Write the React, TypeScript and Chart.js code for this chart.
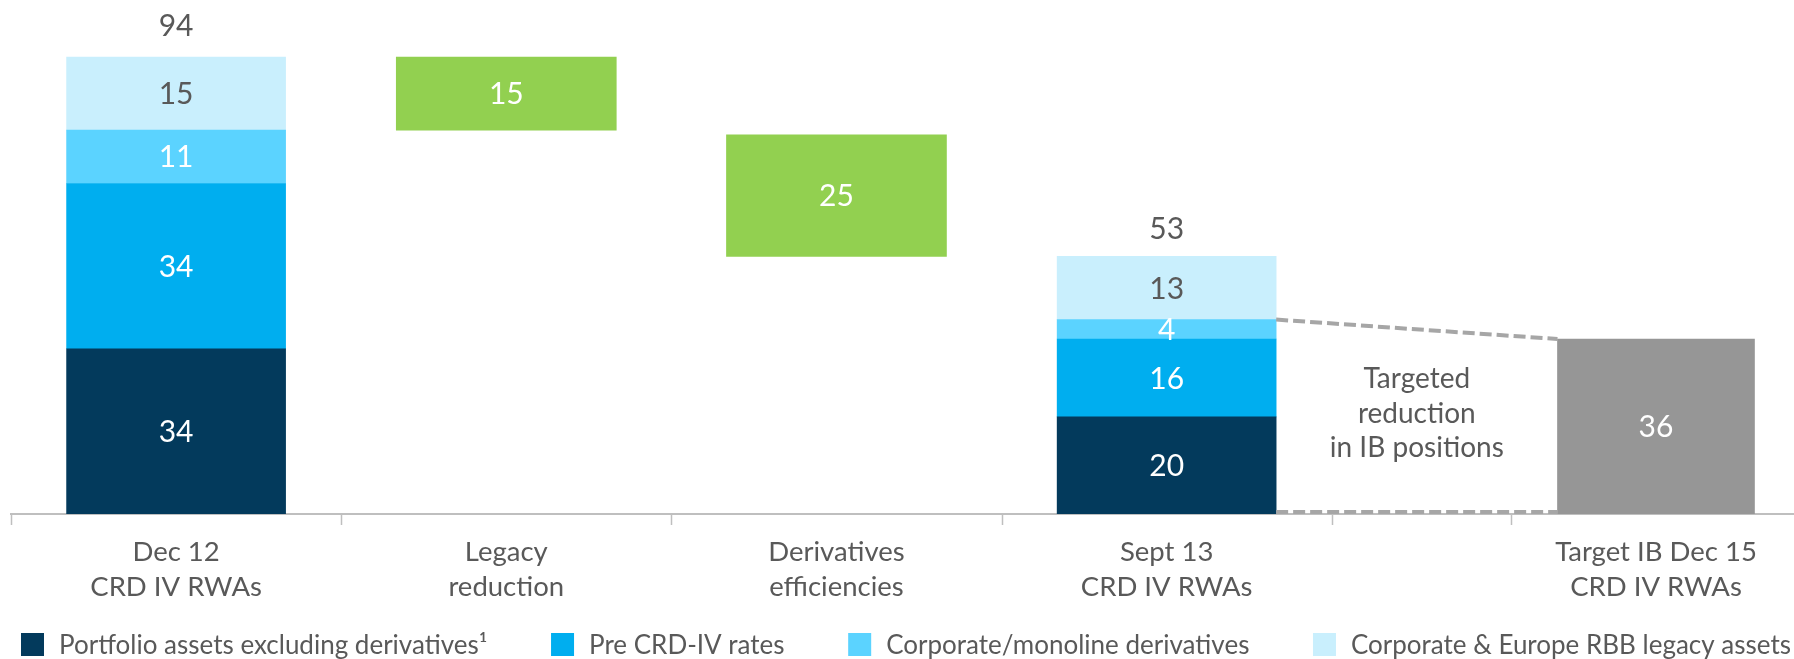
import React, { useEffect, useRef } from "react";
import { Chart, registerables } from "chart.js";

Chart.register(...registerables);

// ---------- data ----------
const CATEGORIES: string[][] = [
  ["Dec 12", "CRD IV RWAs"],
  ["Legacy", "reduction"],
  ["Derivatives", "efficiencies"],
  ["Sept 13", "CRD IV RWAs"],
  ["Target IB Dec 15", "CRD IV RWAs"],
];
const SERIES_NAMES = [
  "Portfolio assets excluding derivatives\u00B9",
  "Pre CRD-IV rates",
  "Corporate/monoline derivatives",
  "Corporate & Europe RBB legacy assets",
];
const DEC12 = [34, 34, 11, 15];
const SEPT13 = [20, 16, 4, 13];
const REDUCTIONS = [15, 25]; // legacy reduction, derivatives efficiencies
const TARGET = 36;
const NOTE_LINES = ["Targeted", "reduction", "in IB positions"];

// ---------- layout / style ----------
const X_POS = [0, 1, 2, 3, 4.482]; // category centres on the x scale
const X_BOUNDS = [-0.5, 0.5, 1.5, 2.5, 3.5, 4.042]; // tick marks
const NOTE_Y_VALUE = 20.6;
const SERIES_COLORS = ["#033A5C", "#00AEEF", "#5BD3FF", "#C9EFFD"];
const GREEN = "#92D050";
const GREY = "#969696";
const TEXT = "#595959";
const AXIS = "#BFBFBF";
const DASH = "#A6A6A6";
const FONT = "Lato";
const LEGEND_LEFT = 21;
const LEGEND_RIGHT = 1791;
const LEGEND_Y = 644.5;
const LEGEND_BOX = 23;
const LEGEND_TEXT_GAP = 15;

const sum = (a: number[]) => a.reduce((s, v) => s + v, 0);

const labelsPlugin = {
  id: "labelsPlugin",
  beforeDatasetsDraw(chart: any) {
    const ctx = chart.ctx;
    const xs = chart.scales.x;
    const area = chart.chartArea;
    ctx.save();
    ctx.strokeStyle = AXIS;
    ctx.lineWidth = 1.5;
    X_BOUNDS.forEach((b) => {
      const px = Math.round(xs.getPixelForValue(b)) + 0.5;
      ctx.beginPath();
      ctx.moveTo(px, area.bottom);
      ctx.lineTo(px, area.bottom + 11);
      ctx.stroke();
    });
    ctx.restore();
  },
  afterDatasetsDraw(chart: any) {
    const ctx = chart.ctx;
    const ys = chart.scales.y;
    ctx.save();
    ctx.textAlign = "center";
    ctx.textBaseline = "middle";
    ctx.font = `30px ${FONT}`;
    for (let d = 0; d < 4; d++) {
      const meta = chart.getDatasetMeta(d);
      meta.data.forEach((el: any, j: number) => {
        const v = j === 0 ? DEC12[d] : SEPT13[d];
        ctx.fillStyle = d === 3 ? TEXT : "#FFFFFF";
        ctx.fillText(String(v), el.x, (el.y + el.base) / 2 + 1);
      });
    }
    const gMeta = chart.getDatasetMeta(4);
    gMeta.data.forEach((el: any, j: number) => {
      ctx.fillStyle = "#FFFFFF";
      ctx.fillText(String(REDUCTIONS[j]), el.x, (el.y + el.base) / 2 + 1);
    });
    const tMeta = chart.getDatasetMeta(5);
    tMeta.data.forEach((el: any) => {
      ctx.fillStyle = "#FFFFFF";
      ctx.fillText(String(TARGET), el.x, (el.y + el.base) / 2 + 1);
    });
    // totals above the stacks
    const m0 = chart.getDatasetMeta(0);
    [sum(DEC12), sum(SEPT13)].forEach((t, j) => {
      ctx.fillStyle = TEXT;
      ctx.fillText(String(t), m0.data[j].x, ys.getPixelForValue(t) - (j === 0 ? 30.5 : 27.5));
    });
    // dashed connectors
    const sept = m0.data[1];
    const tgt = tMeta.data[0];
    const x1 = sept.x + sept.width / 2;
    const x2 = tgt.x - tgt.width / 2;
    ctx.strokeStyle = DASH;
    ctx.lineWidth = 4;
    ctx.setLineDash([12, 5]);
    ctx.beginPath();
    ctx.moveTo(x1, ys.getPixelForValue(sum(SEPT13.slice(0, 3))));
    ctx.lineTo(x2, ys.getPixelForValue(TARGET));
    ctx.stroke();
    ctx.beginPath();
    ctx.moveTo(x1, ys.getPixelForValue(0) - 2);
    ctx.lineTo(x2, ys.getPixelForValue(0) - 2);
    ctx.stroke();
    ctx.setLineDash([]);
    // note text
    ctx.font = `28px ${FONT}`;
    ctx.fillStyle = TEXT;
    const nx = (x1 + x2) / 2;
    const ny = ys.getPixelForValue(NOTE_Y_VALUE);
    NOTE_LINES.forEach((l, i) => ctx.fillText(l, nx, ny + (i - 1) * 34.5));
    ctx.restore();
  },
  afterDraw(chart: any) {
    // legend row spread across the width
    const ctx = chart.ctx;
    ctx.save();
    ctx.font = `26px ${FONT}`;
    ctx.textAlign = "left";
    ctx.textBaseline = "middle";
    const widths = SERIES_NAMES.map((n) => LEGEND_BOX + LEGEND_TEXT_GAP + ctx.measureText(n).width);
    const gap = (LEGEND_RIGHT - LEGEND_LEFT - sum(widths)) / (SERIES_NAMES.length - 1);
    let x = LEGEND_LEFT;
    SERIES_NAMES.forEach((n, i) => {
      ctx.fillStyle = SERIES_COLORS[i];
      ctx.fillRect(x, LEGEND_Y - LEGEND_BOX / 2, LEGEND_BOX, LEGEND_BOX);
      ctx.fillStyle = TEXT;
      ctx.fillText(n, x + LEGEND_BOX + LEGEND_TEXT_GAP, LEGEND_Y + 1);
      x += widths[i] + gap;
    });
    ctx.restore();
  },
};

export default function App() {
  const ref = useRef<HTMLCanvasElement>(null);
  useEffect(() => {
    // waterfall: legacy hangs from the Dec 12 total, derivatives sits on the Sept 13 total
    const legacyTop = sum(DEC12);
    const legacyBottom = legacyTop - REDUCTIONS[0];
    const derivBottom = sum(SEPT13);
    const derivTop = derivBottom + REDUCTIONS[1];
    const datasets: any[] = SERIES_NAMES.map((name, i) => ({
      label: name,
      data: [
        { x: X_POS[0], y: DEC12[i] },
        { x: X_POS[3], y: SEPT13[i] },
      ],
      backgroundColor: SERIES_COLORS[i],
      barThickness: 219,
      borderWidth: 0,
    }));
    datasets.push({
      label: "Reductions",
      data: [
        { x: X_POS[1], y: [legacyBottom, legacyTop] },
        { x: X_POS[2], y: [derivBottom, derivTop] },
      ],
      backgroundColor: GREEN,
      barThickness: 220,
      borderWidth: 0,
    });
    datasets.push({
      label: "Target",
      data: [{ x: X_POS[4], y: TARGET }],
      backgroundColor: GREY,
      barThickness: 197,
      borderWidth: 0,
    });

    const chart = new Chart(ref.current as HTMLCanvasElement, {
      type: "bar",
      data: { datasets },
      options: {
        animation: false,
        responsive: false,
        layout: { padding: { left: 11, right: 0, top: 28, bottom: 0 } },
        scales: {
          x: {
            type: "linear",
            min: -0.5,
            max: 4.9,
            offset: false,
            stacked: true,
            grid: { display: false, drawTicks: false },
            border: { display: true, color: AXIS, width: 2 },
            afterBuildTicks: (scale: any) => {
              scale.ticks = X_POS.map((v) => ({ value: v }));
            },
            afterFit: (scale: any) => {
              scale.height = 145;
            },
            ticks: {
              autoSkip: false,
              maxRotation: 0,
              minRotation: 0,
              padding: 20.5,
              color: TEXT,
              font: { family: FONT, size: 27.5, lineHeight: 1.27 },
              callback: (_v: any, i: number) => CATEGORIES[i],
            },
          },
          y: {
            display: false,
            stacked: true,
            min: 0,
            max: 100,
          },
        },
        plugins: {
          tooltip: { enabled: false },
          legend: { display: false },
        },
      } as any,
      plugins: [labelsPlugin],
    });
    return () => chart.destroy();
  }, []);

  return (
    <div style={{ position: "absolute", left: 0, top: 0, width: 1794, height: 659, overflow: "hidden", background: "#fff" }}>
      <canvas ref={ref} width={1794} height={659} style={{ display: "block" }} />
    </div>
  );
}
